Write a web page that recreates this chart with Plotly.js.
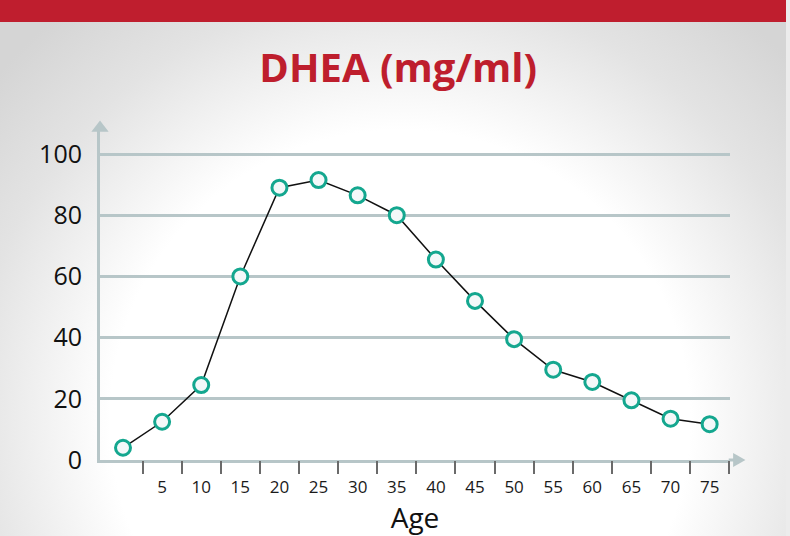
<!DOCTYPE html>
<html>
<head>
<meta charset="utf-8">
<script src="https://cdn.plot.ly/plotly-3.0.1.min.js"></script>
<style>
html,body{margin:0;padding:0;width:790px;height:536px;overflow:hidden;}
body{background:radial-gradient(circle at 400px 420px,#ffffff 0px,#ffffff 290px,#f1f1f1 360px,#e3e3e3 430px,#d5d5d5 530px);}
#bar{position:absolute;left:0;top:0;width:786px;height:22px;background:#bf1e2e;}
#edge{position:absolute;right:0;top:0;width:4px;height:536px;background:#ececec;}
#chart{position:absolute;left:0;top:0;width:790px;height:536px;}
</style>
</head>
<body>
<div id="bar"></div>
<div id="edge"></div>
<div id="chart"></div>
<script>
const ages = [0, 5, 10, 15, 20, 25, 30, 35, 40, 45, 50, 55, 60, 65, 70, 75];
const dhea = [4, 12.5, 24.5, 60, 89, 91.5, 86.5, 80, 65.5, 52, 39.5, 29.5, 25.5, 19.5, 13.5, 11.7];
const tickLabelVals = [5, 10, 15, 20, 25, 30, 35, 40, 45, 50, 55, 60, 65, 70, 75];
const tickMarkVals = [2.5, 7.5, 12.5, 17.5, 22.5, 27.5, 32.5, 37.5, 42.5, 47.5, 52.5, 57.5, 62.5, 67.5, 72.5, 77.5];
const yTicks = [0, 20, 40, 60, 80, 100];

const axisColor = '#b7c6c8';
const xRange = [-2.94, 77.6];
const yRange = [0, 108.5];

const data = [
  {x: [xRange[0]], y: [yRange[1]], type: 'scatter', mode: 'markers', cliponaxis: false,
   marker: {symbol: 'triangle-up', size: 15, color: axisColor}, hoverinfo: 'skip', showlegend: false},
  {x: ages, y: dhea, type: 'scatter', mode: 'lines+markers', cliponaxis: false,
   line: {color: '#111111', width: 1.5},
   marker: {size: 15, color: '#f4f8f9', line: {color: '#14a78f', width: 3}},
   hoverinfo: 'skip', showlegend: false},
  {x: [xRange[0]], y: [0], xaxis: 'x2', yaxis: 'y', mode: 'markers',
   marker: {opacity: 0}, showlegend: false, hoverinfo: 'skip'}
];

const layout = {
  width: 790, height: 536,
  margin: {l: 100, r: 60, t: 128, b: 76},
  paper_bgcolor: 'rgba(0,0,0,0)', plot_bgcolor: 'rgba(0,0,0,0)',
  font: {family: '"Open Sans", "DejaVu Sans", sans-serif', color: '#1a1a1a'},
  title: {
    text: 'DHEA (mg/ml)',
    font: {family: '"Open Sans", sans-serif', size: 40, color: '#be1e2d', weight: 700},
    xref: 'container', yref: 'container', x: 0.504, y: 1 - 68/536,
    xanchor: 'center', yanchor: 'middle'
  },
  xaxis: {
    range: xRange, showgrid: false, zeroline: false,
    showline: true, linecolor: axisColor, linewidth: 3,
    tickmode: 'array', tickvals: tickLabelVals, ticktext: tickLabelVals.map(String),
    ticks: 'outside', ticklen: 10, tickcolor: 'rgba(0,0,0,0)',
    tickfont: {size: 17, color: '#1a1a1a'},
    title: {text: 'Age', font: {size: 28, color: '#111'}, standoff: 4},
    fixedrange: true
  },
  xaxis2: {
    range: xRange, overlaying: 'x', anchor: 'y', side: 'bottom',
    showgrid: false, zeroline: false, showline: false,
    tickmode: 'array', tickvals: tickMarkVals, showticklabels: false,
    ticks: 'outside', ticklen: 13, tickwidth: 2, tickcolor: '#6a6a6a',
    fixedrange: true
  },
  yaxis: {
    range: yRange, tickmode: 'array', tickvals: yTicks,
    showgrid: true, gridcolor: axisColor, gridwidth: 3,
    zeroline: false, showline: true, linecolor: axisColor, linewidth: 3,
    ticks: '', ticklabelstandoff: 10,
    tickfont: {size: 25, color: '#111'},
    fixedrange: true
  },
  shapes: [
    {type: 'line', xref: 'paper', yref: 'paper', x0: 0.998, x1: 1.008, y0: 0, y1: 0,
     line: {color: axisColor, width: 3}, layer: 'below'},
    {type: 'path', xref: 'paper', yref: 'paper',
     path: 'M 1.005,-0.021 L 1.0245,0 L 1.005,0.021 Z',
     fillcolor: axisColor, line: {width: 0}, layer: 'below'}
  ]
};

Plotly.newPlot('chart', data, layout, {displayModeBar: false, staticPlot: true});
</script>
</body>
</html>
